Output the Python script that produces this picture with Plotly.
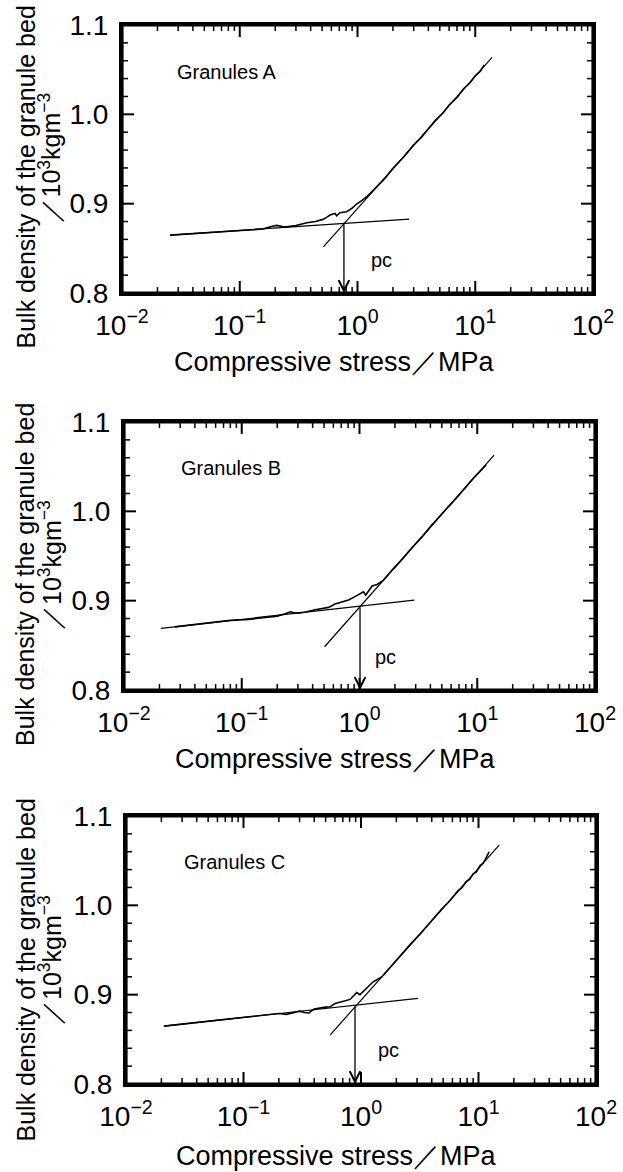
import numpy as np
import plotly.graph_objects as go

# ---------------- data ----------------
panels = ["Granules A", "Granules B", "Granules C"]

A_x = [0.0256, 0.04, 0.06, 0.09, 0.12, 0.157, 0.185, 0.206, 0.23, 0.25, 0.30, 0.371, 0.44,
       0.509, 0.55, 0.585, 0.644, 0.665, 0.71, 0.81, 0.90, 0.984, 1.10, 1.197, 1.4, 1.7, 2.0,
       2.5, 3.0, 3.5, 4.0, 4.6, 5.3, 6.0, 7.0, 8.0, 9.0, 10.0, 11.0, 11.9]
A_y = [0.8648, 0.8665, 0.8681, 0.8696, 0.8707, 0.8716, 0.8745, 0.8757, 0.8745, 0.8740, 0.8755,
       0.8786, 0.8800, 0.8824, 0.8850, 0.8872, 0.8891, 0.8865, 0.8899, 0.8910, 0.8950, 0.8996,
       0.9040, 0.9078, 0.9165, 0.9280, 0.9395, 0.9530, 0.9660, 0.9745, 0.9840, 0.9935, 1.0012,
       1.0105, 1.0190, 1.0290, 1.0350, 1.0432, 1.0480, 1.0552]

B_x = [0.027, 0.035, 0.045, 0.06, 0.073, 0.08, 0.1146, 0.16, 0.20, 0.23, 0.259, 0.29, 0.34,
       0.42, 0.50, 0.546, 0.62, 0.70, 0.807, 0.90, 1.01, 1.08, 1.13, 1.28, 1.41, 1.6, 1.9, 2.3,
       2.8, 3.4, 4.0, 4.7, 5.5, 6.5, 7.5, 8.5, 9.5, 10.5, 11.9]
B_y = [0.8707, 0.8724, 0.8740, 0.8758, 0.8777, 0.8779, 0.8790, 0.8812, 0.8827, 0.8850, 0.8876,
       0.8860, 0.8870, 0.8899, 0.8915, 0.8925, 0.8962, 0.8980, 0.9007, 0.9040, 0.9074, 0.9100,
       0.9063, 0.9164, 0.9182, 0.9230, 0.9345, 0.9462, 0.9595, 0.9714, 0.9826, 0.9924, 1.0031,
       1.0134, 1.0232, 1.0306, 1.0386, 1.0444, 1.0518]

C_x = [0.021, 0.03, 0.045, 0.065, 0.09, 0.113, 0.15, 0.20, 0.232, 0.26, 0.30, 0.33, 0.36,
       0.40, 0.45, 0.50, 0.545, 0.601, 0.685, 0.75, 0.807, 0.87, 0.92, 0.98, 1.08, 1.27, 1.5,
       1.8, 2.2, 2.7, 3.3, 4.0, 4.8, 5.7, 6.7, 7.2, 7.8, 8.4, 9.0, 9.6, 10.3, 10.9, 11.5, 12.3]
C_y = [0.8648, 0.8670, 0.8695, 0.8718, 0.8739, 0.8760, 0.8771, 0.8789, 0.8780, 0.8795, 0.8815,
       0.8800, 0.8795, 0.8840, 0.8855, 0.8860, 0.8864, 0.8900, 0.8921, 0.8935, 0.8947, 0.8990,
       0.9024, 0.9000, 0.9051, 0.9144, 0.9198, 0.9318, 0.9440, 0.9580, 0.9702, 0.9830, 0.9950,
       1.0052, 1.0165, 1.0195, 1.0262, 1.0290, 1.0352, 1.0375, 1.0445, 1.0470, 1.0520, 1.0600]

A_low_x, A_low_y = [0.0256, 2.75], [0.8648, 0.8828]
A_high_x, A_high_y = [0.513, 13.9], [0.8517, 1.0638]
B_low_x, B_low_y = [0.0206, 2.92], [0.8690, 0.9007]
B_high_x, B_high_y = [0.505, 13.9], [0.8484, 1.0630]
C_low_x, C_low_y = [0.021, 3.05], [0.8648, 0.8959]
C_high_x, C_high_y = [0.545, 15.0], [0.8548, 1.0675]

pc_x = [0.767, 1.01, 0.889]
pc_y = [0.8786, 0.8943, 0.8883]
pc_label_x = [1.61, 1.66, 1.70]
pc_label_y = [0.8368, 0.8370, 0.8380]
name_x = [0.0282, 0.0292, 0.030]
name_y = [1.0474, 1.0485, 1.0488]

x_tickvals = [0.01, 0.1, 1, 10, 100]
x_ticktext = ["10<sup>−2</sup>", "10<sup>−1</sup>", "10<sup>0</sup>", "10<sup>1</sup>", "10<sup>2</sup>"]
x_minor_vals = [m * 10.0 ** e for e in range(-2, 2) for m in range(2, 10)]
y_tickvals = [0.8, 0.9, 1.0, 1.1]
y_ticktext = ["0.8", "0.9", "1.0", "1.1"]
y_minor_vals = [0.82, 0.84, 0.86, 0.88, 0.92, 0.94, 0.96, 0.98, 1.02, 1.04, 1.06, 1.08]
x_range_log = [-2, 2]
y_range = [0.8, 1.1]

x_title = "Compressive stress／MPa"
y_title1 = "Bulk density of the granule bed"
y_title2 = "／10<sup>3</sup>kgm<sup>−3</sup>"

W, H = 623, 1172
boxes = [(122, 593, 25, 293), (124, 595, 422, 690), (126, 596, 816, 1084)]
ytitle_centers = [(177.5, 157.5), (575, 565), (970.5, 960)]
xtitle_centers = [(334, 362), (335, 759), (336, 1156)]
MAJOR_LEN, MINOR_LEN = 12, 6   # tick lengths in pixels

FONT = "Liberation Sans, Arial, Helvetica, sans-serif"

curves = [(A_x, A_y), (B_x, B_y), (C_x, C_y)]
lows = [(A_low_x, A_low_y), (B_low_x, B_low_y), (C_low_x, C_low_y)]
highs = [(A_high_x, A_high_y), (B_high_x, B_high_y), (C_high_x, C_high_y)]


def tick_segments(xvals, yvals, len_px, wpx, hpx):
    """Inside tick marks on all four sides, built from the tick values and the axis scale."""
    dy = len_px * (y_range[1] - y_range[0]) / hpx
    fx = 10 ** (len_px * (x_range_log[1] - x_range_log[0]) / wpx)
    x0, x1 = 10.0 ** x_range_log[0], 10.0 ** x_range_log[1]
    xs, ys = [], []
    for v in xvals:
        xs += [v, v, None, v, v, None]
        ys += [y_range[0], y_range[0] + dy, None, y_range[1], y_range[1] - dy, None]
    for v in yvals:
        xs += [x0, x0 * fx, None, x1, x1 / fx, None]
        ys += [v, v, None, v, v, None]
    return xs, ys


fig = go.Figure()
annotations = []
shapes = []
layout = dict(
    width=W, height=H, autosize=False,
    margin=dict(l=0, r=0, t=0, b=0, pad=0),
    paper_bgcolor="white", plot_bgcolor="white",
    showlegend=False,
    font=dict(family=FONT, color="black"),
    template="none",
)

for i in range(3):
    xa = "x" if i == 0 else f"x{i+1}"
    ya = "y" if i == 0 else f"y{i+1}"
    l, r, t, b = boxes[i]
    wpx, hpx = r - l, b - t
    cx, cy = curves[i]
    lx, ly = lows[i]
    hx, hy = highs[i]
    for (xx, yy, w) in [(lx, ly, 1.2), (hx, hy, 1.2), (cx, cy, 1.6)]:
        fig.add_trace(go.Scatter(x=xx, y=yy, mode="lines", xaxis=xa, yaxis=ya,
                                 line=dict(color="black", width=w), hoverinfo="skip"))
    mx, my = tick_segments(x_tickvals, y_tickvals, MAJOR_LEN, wpx, hpx)
    fig.add_trace(go.Scatter(x=mx, y=my, mode="lines", xaxis=xa, yaxis=ya, connectgaps=False,
                             line=dict(color="black", width=2), hoverinfo="skip"))
    nx, ny = tick_segments(x_minor_vals, y_minor_vals, MINOR_LEN, wpx, hpx)
    fig.add_trace(go.Scatter(x=nx, y=ny, mode="lines", xaxis=xa, yaxis=ya, connectgaps=False,
                             line=dict(color="black", width=1.5), hoverinfo="skip"))

    # heavy frame around each panel
    shapes.append(dict(type="rect", xref=f"{xa} domain", yref=f"{ya} domain",
                       x0=0, x1=1, y0=0, y1=1, line=dict(color="black", width=3.2),
                       fillcolor="rgba(0,0,0,0)", layer="above"))

    axis_common = dict(
        showline=True, linewidth=3, linecolor="black", mirror=True,
        ticks="", showgrid=False, zeroline=False, automargin=False, showticklabels=True,
        tickfont=dict(family=FONT, size=28, color="black"),
    )
    layout["xaxis" if i == 0 else f"xaxis{i+1}"] = dict(
        axis_common, type="log", range=x_range_log, domain=[l / W, r / W],
        anchor=ya, tickmode="array", tickvals=x_tickvals, ticktext=x_ticktext,
        ticklabelstandoff=5)
    layout["yaxis" if i == 0 else f"yaxis{i+1}"] = dict(
        axis_common, range=y_range, domain=[1 - b / H, 1 - t / H],
        anchor=xa, tickmode="array", tickvals=y_tickvals, ticktext=y_ticktext,
        ticklabelstandoff=5)

    annotations.append(dict(
        x=np.log10(pc_x[i]), y=y_range[0], xref=xa, yref=ya,
        ax=np.log10(pc_x[i]), ay=pc_y[i], axref=xa, ayref=ya,
        showarrow=True, arrowhead=5, arrowsize=1.6, arrowwidth=1.3, arrowcolor="black",
        text="",
    ))
    annotations.append(dict(
        x=np.log10(pc_label_x[i]), y=pc_label_y[i], xref=xa, yref=ya,
        text="pc", showarrow=False, xanchor="center", yanchor="middle",
        font=dict(family=FONT, size=20, color="black"),
    ))
    annotations.append(dict(
        x=np.log10(name_x[i]), y=name_y[i], xref=xa, yref=ya,
        text=panels[i], showarrow=False, xanchor="left", yanchor="middle",
        font=dict(family=FONT, size=20, color="black"),
    ))
    y1c, y2c = ytitle_centers[i]
    annotations.append(dict(
        x=25 / W, y=1 - y1c / H, xref="paper", yref="paper", text=y_title1,
        textangle=-90, showarrow=False, xanchor="center", yanchor="middle",
        font=dict(family=FONT, size=25, color="black"),
    ))
    annotations.append(dict(
        x=50 / W, y=1 - y2c / H, xref="paper", yref="paper", text=y_title2,
        textangle=-90, showarrow=False, xanchor="center", yanchor="middle",
        font=dict(family=FONT, size=25, color="black"),
    ))
    xc, yc = xtitle_centers[i]
    annotations.append(dict(
        x=xc / W, y=1 - yc / H, xref="paper", yref="paper", text=x_title,
        showarrow=False, xanchor="center", yanchor="middle",
        font=dict(family=FONT, size=27, color="black"),
    ))

layout["annotations"] = annotations
layout["shapes"] = shapes
fig.update_layout(**layout)
fig.write_html("out.html")
